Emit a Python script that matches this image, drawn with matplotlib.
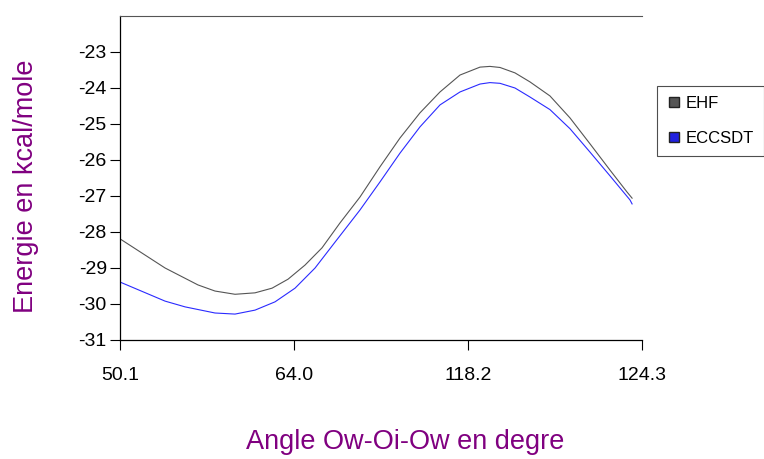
import matplotlib.pyplot as plt
from matplotlib.lines import Line2D

plt.rcParams['font.family'] = ['Liberation Sans', 'DejaVu Sans']
plt.rcParams['axes.unicode_minus'] = False

# angle axis: labelled categories, curves sampled between them
tick_labels = ["50.1", "64.0", "118.2", "124.3"]

ehf_pos = [0.000, 0.259, 0.448, 0.546, 0.661, 0.776, 0.874, 0.966, 1.063,
           1.161, 1.264, 1.379, 1.494, 1.609, 1.724, 1.839, 1.954, 2.069,
           2.126, 2.184, 2.270, 2.356, 2.471, 2.586, 2.701, 2.816, 2.914, 2.943]
ehf = [-28.19, -29.00, -29.47, -29.64, -29.73, -29.69, -29.56, -29.31, -28.92,
       -28.44, -27.75, -27.03, -26.19, -25.39, -24.69, -24.11, -23.64, -23.42,
       -23.40, -23.43, -23.58, -23.83, -24.22, -24.83, -25.55, -26.28, -26.89, -27.06]

eccsdt_pos = [0.000, 0.259, 0.374, 0.546, 0.661, 0.776, 0.891, 1.006, 1.121,
              1.236, 1.379, 1.494, 1.609, 1.724, 1.839, 1.954, 2.069, 2.126,
              2.184, 2.270, 2.356, 2.471, 2.586, 2.701, 2.816, 2.931, 2.943]
eccsdt = [-29.39, -29.92, -30.08, -30.25, -30.28, -30.17, -29.94, -29.56, -29.00,
          -28.28, -27.39, -26.61, -25.81, -25.08, -24.47, -24.11, -23.89, -23.85,
          -23.87, -24.00, -24.25, -24.60, -25.13, -25.78, -26.44, -27.11, -27.22]

purple = "#800080"

fig = plt.figure(figsize=(7.64, 4.59), dpi=100)
ax = fig.add_axes([120/764, 1-340/459, 522/764, 324/459])

ax.plot(ehf_pos, ehf, color="#555555", lw=0.8)
ax.plot(eccsdt_pos, eccsdt, color="#2a2aff", lw=0.8)

ax.set_xlim(0, 3)
ax.set_ylim(-31, -22)
ax.set_xticks(range(len(tick_labels)))
ax.set_xticklabels(tick_labels)
ax.set_yticks(range(-31, -22))
ax.tick_params(labelsize=14, length=7.5, width=0.8, direction="out", pad=2)
ax.tick_params(axis="x", pad=12)

ax.spines["right"].set_visible(False)
ax.spines["top"].set_color("#555555")
for s in ["left", "bottom"]:
    ax.spines[s].set_linewidth(0.9)

ax.set_xlabel("Angle Ow-Oi-Ow en degre", color=purple, fontsize=19.5, va="center")
ax.xaxis.set_label_coords((405-120)/522, -(442-340)/324)
ax.set_ylabel("Energie en kcal/mole", color=purple, fontsize=19.5, va="center")
ax.yaxis.set_label_coords((26-120)/522, (340-186)/324)

handles = [Line2D([], [], marker="s", ls="none", color="#555555", mec="#222222", ms=7),
           Line2D([], [], marker="s", ls="none", color="#2020e0", mec="#222222", ms=7)]
leg = fig.legend(handles, ["EHF", "ECCSDT"], loc="upper left",
                 bbox_to_anchor=(657/764, 1-86/459), fontsize=12,
                 frameon=True, fancybox=False, edgecolor="#222222",
                 handletextpad=0.3, labelspacing=1.2, borderpad=0.6,
                 handlelength=0.8, borderaxespad=0)
leg.get_frame().set_linewidth(0.8)

fig.savefig("out.png", dpi=100)
